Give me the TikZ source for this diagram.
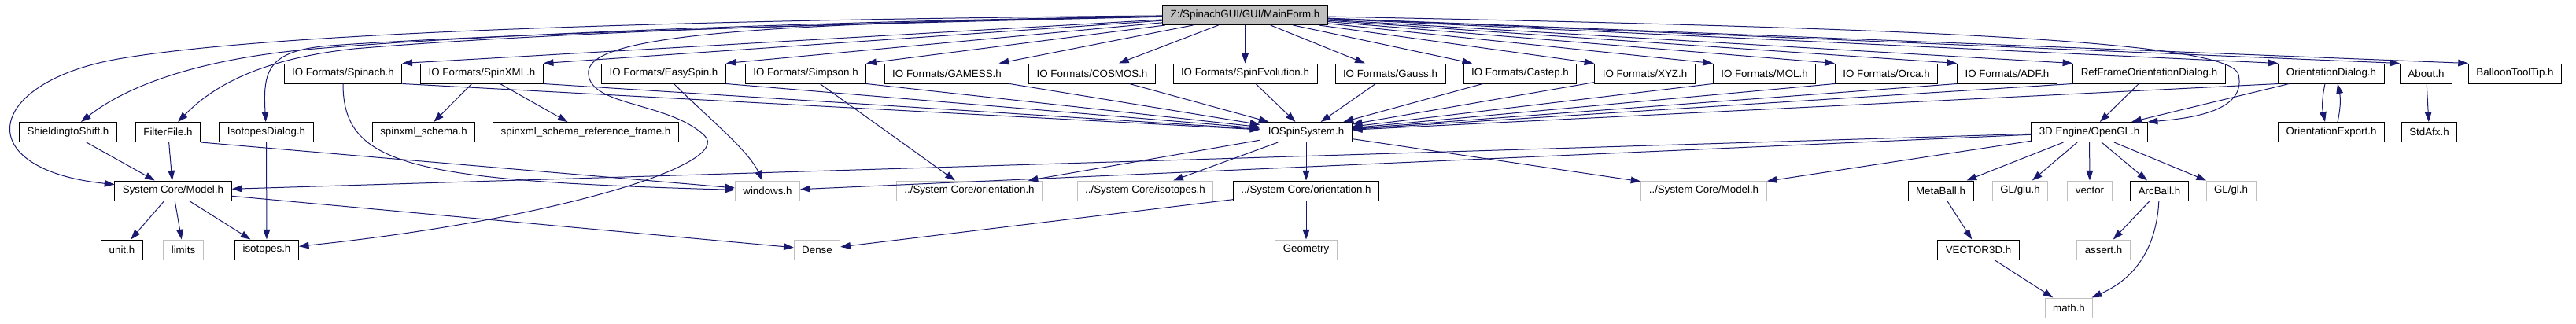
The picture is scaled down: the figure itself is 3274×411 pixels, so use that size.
\documentclass[tikz,border=0pt]{standalone}
\usepackage{fontspec}
\setmainfont{Liberation Sans}
\usetikzlibrary{arrows.meta}
\definecolor{edgeblue}{HTML}{191970}
\definecolor{extgray}{HTML}{BFBFBF}

\begin{document}
\begin{tikzpicture}[x=0.75pt, y=-0.75pt, line width=0.75pt,
        main/.style = {draw, fill=white, minimum height=18.75pt, inner xsep=7.5pt, inner ysep=0pt, font=\fontsize{10}{12}\selectfont},
        ext/.style = {main, draw=extgray},
        root/.style = {main, fill=extgray},
        dep/.style = {draw=edgeblue, -{Triangle[length=9.5pt, width=6.5pt]}}]
        \useasboundingbox (0,0) rectangle (3274,411);
        \node[root] (1) at (1582.5,19) {Z:/SpinachGUI/GUI/MainForm.h};
        \node[main] (2) at (436,93.5) {IO Formats/Spinach.h};
        \node[main] (3) at (612.5,93.5) {IO Formats/SpinXML.h};
        \node[main] (4) at (843.5,93.5) {IO Formats/EasySpin.h};
        \node[main] (5) at (1024,93.5) {IO Formats/Simpson.h};
        \node[main] (6) at (1203.5,93.5) {IO Formats/GAMESS.h};
        \node[main] (7) at (1388,93.5) {IO Formats/COSMOS.h};
        \node[main] (8) at (1582.5,93.5) {IO Formats/SpinEvolution.h};
        \node[main] (9) at (1767,93.5) {IO Formats/Gauss.h};
        \node[main] (10) at (1932,93.5) {IO Formats/Castep.h};
        \node[main] (11) at (2090.5,93.5) {IO Formats/XYZ.h};
        \node[main] (12) at (2242.5,93.5) {IO Formats/MOL.h};
        \node[main] (13) at (2397.5,93.5) {IO Formats/Orca.h};
        \node[main] (14) at (2551,93.5) {IO Formats/ADF.h};
        \node[main] (15) at (2731.5,93.5) {RefFrameOrientationDialog.h};
        \node[main] (16) at (2963,93.5) {OrientationDialog.h};
        \node[main] (17) at (3083.5,93.5) {About.h};
        \node[main] (18) at (3196.5,93.5) {BalloonToolTip.h};
        \node[main] (19) at (86.5,168) {ShieldingtoShift.h};
        \node[main] (20) at (213.5,168) {FilterFile.h};
        \node[main] (21) at (338.5,168) {IsotopesDialog.h};
        \node[main] (22) at (538.5,168) {spinxml\_schema.h};
        \node[main] (23) at (744.5,168) {spinxml\_schema\_reference\_frame.h};
        \node[main] (24) at (1660,168) {IOSpinSystem.h};
        \node[main] (25) at (2655.5,168) {3D Engine/OpenGL.h};
        \node[main] (26) at (2963,168) {OrientationExport.h};
        \node[main] (27) at (3087.5,168) {StdAfx.h};
        \node[main] (28) at (220,242.5) {System Core/Model.h};
        \node[ext] (29) at (975.5,242.5) {windows.h};
        \node[ext] (30) at (1232,242.5) {../System Core/orientation.h};
        \node[ext] (31) at (1455.5,242.5) {../System Core/isotopes.h};
        \node[main] (32) at (1660,242.5) {../System Core/orientation.h};
        \node[ext] (33) at (2165.5,242.5) {../System Core/Model.h};
        \node[main] (34) at (2466.5,242.5) {MetaBall.h};
        \node[ext] (35) at (2567.5,242.5) {GL/glu.h};
        \node[ext] (36) at (2656,242.5) {vector};
        \node[main] (37) at (2744.5,242.5) {ArcBall.h};
        \node[ext] (38) at (2835.5,242.5) {GL/gl.h};
        \node[main] (39) at (155,317.5) {unit.h};
        \node[ext] (40) at (233,317.5) {limits};
        \node[main] (41) at (339,317.5) {isotopes.h};
        \node[ext] (42) at (1038.5,317.5) {Dense};
        \node[ext] (43) at (1660,317.5) {Geometry};
        \node[main] (44) at (2514.5,317.5) {VECTOR3D.h};
        \node[ext] (45) at (2673.5,317.5) {assert.h};
        \node[ext] (46) at (2629.5,391.5) {math.h};
        \draw[dep] (1) -- (2.north east);
        \draw[dep] (1) -- (3.north east);
        \draw[dep] (1) -- (4.north east);
        \draw[dep] (1) -- (5.north east);
        \draw[dep] (1) -- (6);
        \draw[dep] (1) -- (7);
        \draw[dep] (1) -- (8);
        \draw[dep] (1) -- (9);
        \draw[dep] (1) -- (10);
        \draw[dep] (1) -- (11.north west);
        \draw[dep] (1) -- (12.north west);
        \draw[dep] (1) -- (13.north west);
        \draw[dep] (1) -- (14.north west);
        \draw[dep] (1) -- (15.north west);
        \draw[dep] (1) -- (16.north west);
        \draw[dep] (1) -- (17.north west);
        \draw[dep] (1) -- (18.north west);
        \draw[dep] (1) .. controls (1000,28) and (600,45) .. (400,62) .. controls (250,75) and (160,110) .. (19);
        \draw[dep] (1) .. controls (1000,30) and (650,45) .. (450,62) .. controls (330,75) and (270,110) .. (20);
        \draw[dep] (1) .. controls (1000,32) and (600,45) .. (420,58) .. controls (340,64) and (334,90) .. (21);
        \draw[dep] (1) .. controls (900,25) and (350,40) .. (150,75) .. controls (-20,105) and (-40,215) .. (28);
        \draw[dep] (1) .. controls (950,30) and (740,45) .. (748,95) .. controls (752,135) and (850,130) .. (895,172) .. controls (935,209) and (700,280) .. (41);
        \draw[dep] (1) .. controls (2400,35) and (2835,50) .. (2845,95) .. controls (2855,140) and (2790,150) .. (25.north east);
        \draw[dep] (2.south east) -- (24);
        \draw[dep] (2) .. controls (436,210) and (520,230) .. (29);
        \draw[dep] (3) -- (22);
        \draw[dep] (3) -- (23);
        \draw[dep] (3.south east) -- (24);
        \draw[dep] (4.south east) -- (24);
        \draw[dep] (4) .. controls (900,150) and (950,190) .. (29);
        \draw[dep] (5.south east) -- (24);
        \draw[dep] (5) -- (30);
        \draw[dep] (6.south east) -- (24);
        \draw[dep] (7) -- (24);
        \draw[dep] (8) -- (24);
        \draw[dep] (9) -- (24);
        \draw[dep] (10) -- (24);
        \draw[dep] (11) -- (24);
        \draw[dep] (12.south west) -- (24);
        \draw[dep] (13.south west) -- (24);
        \draw[dep] (14.south west) -- (24);
        \draw[dep] (15.south west) -- (24);
        \draw[dep] (15) -- (25);
        \draw[dep] (16.south west) -- (24);
        \draw[dep] (16) -- (25);
        \draw[dep] ([xshift=-6pt]16.south) to[bend right=12] ([xshift=-6pt]26.north);
        \draw[dep] ([xshift=6pt]26.north) to[bend right=12] ([xshift=6pt]16.south);
        \draw[dep] (17) -- (27);
        \draw[dep] (19) -- (28);
        \draw[dep] (20) -- (28);
        \draw[dep] (20.south east) -- (29);
        \draw[dep] (21) -- (41);
        \draw[dep] (24) -- (30);
        \draw[dep] (24) -- (31);
        \draw[dep] (24) -- (32);
        \draw[dep] (24) -- (33);
        \draw[dep] (25) -- (28);
        \draw[dep] (25) -- (29);
        \draw[dep] (25) -- (33);
        \draw[dep] (25) -- (34);
        \draw[dep] (25) -- (35);
        \draw[dep] (25) -- (36);
        \draw[dep] (25) -- (37);
        \draw[dep] (25) -- (38);
        \draw[dep] (28) -- (39);
        \draw[dep] (28) -- (40);
        \draw[dep] (28) -- (41);
        \draw[dep] (28) -- (42);
        \draw[dep] (32) -- (42);
        \draw[dep] (32) -- (43);
        \draw[dep] (34) -- (44);
        \draw[dep] (44) -- (46);
        \draw[dep] (37) -- (45);
        \draw[dep] (37) .. controls (2740,330) and (2700,360) .. (46);
\end{tikzpicture}
\end{document}
